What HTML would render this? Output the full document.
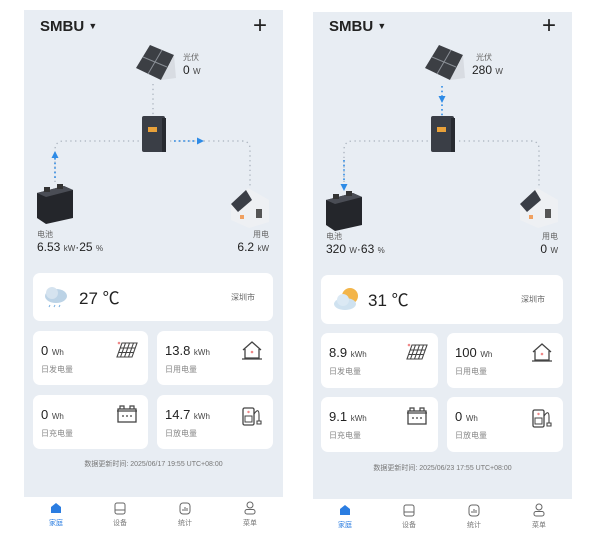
<!DOCTYPE html>
<html><head><meta charset="utf-8"><style>
*{margin:0;padding:0;box-sizing:border-box}
body{width:600px;height:540px;background:#fff;position:relative;overflow:hidden;font-family:"Liberation Sans","Noto Sans CJK SC",sans-serif;color:#222}
.p{position:absolute;width:259px;height:530px;background:#e8edf3}
.a{position:absolute}
.tab{position:absolute;left:0;top:487px;width:259px;height:50px;background:#fff}
.card{position:absolute;background:#fff;border-radius:7px}
.lbl{font-size:8px;color:#666}
.val{font-size:12px;color:#222}
.val small{font-size:8px;color:#444}
.cv{position:absolute;left:8px;top:12px;font-size:13px;color:#222}
.cv small{font-size:8px;color:#444}
.cl{position:absolute;left:8px;top:33px;font-size:8px;color:#888}
.ic{position:absolute;right:10px;top:10px}
.tl{position:absolute;font-size:7px;color:#777;width:30px;text-align:center}
</style></head><body>

<!-- PANEL 1 -->
<div class="p" style="left:24px;top:10px">
 <div class="a" style="left:16px;top:8px;font-size:15px;font-weight:bold">SMBU <span style="font-size:9px;position:relative;top:-2px">▼</span></div>
 <div class="a" style="left:229px;top:2px;font-size:24px;font-weight:300">+</div>
 <svg class="a" style="left:0;top:0" width="259" height="260">
  <g stroke="#a9b2bd" stroke-width="1.3" stroke-dasharray="1.3 3.5" fill="none">
   <path d="M129 74 L129 106"/>
   <path d="M31 172 L31 140 Q31 131 40 131 L117 131"/>
   <path d="M146 131 L218 131 Q226 131 226 139 L226 178"/>
  </g>
  <g stroke="#2e8be6" stroke-width="1.6" stroke-dasharray="1.6 3" fill="none"><path d="M31 168 L31 148"/><path d="M150 131 L172 131"/></g>
  <path d="M31 141 L27.5 148 L34.5 148Z" fill="#2e8be6"/>
  <path d="M180 131 L173 127.5 L173 134.5Z" fill="#2e8be6"/>
  <polygon points="126,35 150,45 137,70 112,58" fill="#3c3f44"/>
  <path d="M138 40 L124 64 M119 47 L143 57" stroke="#8a8f96" stroke-width="1"/>
  <polygon points="137,70 150,45 152,68" fill="#d8dce2"/>
  <rect x="118" y="106" width="23" height="36" rx="2" fill="#3a3e46"/>
  <rect x="138" y="108" width="4" height="34" fill="#272a30"/>
  <rect x="124" y="117" width="9" height="5" fill="#e8a13a"/>
  <polygon points="13,183 40,176 49,180 49,208 22,214 13,208" fill="#24262b"/>
  <polygon points="13,183 40,176 49,180 22,187" fill="#4a4d55"/>
  <rect x="20" y="177" width="6" height="5" fill="#333"/><rect x="33" y="174" width="6" height="5" fill="#333"/>
  <polygon points="207,194 224,178 245,190 245,212 225,218 207,210" fill="#eef0f3"/>
  <polygon points="207,194 222,180 228,190 214,202" fill="#3a3e46"/>
  <rect x="232" y="199" width="6" height="9" fill="#555"/><rect x="216" y="205" width="4" height="4" fill="#f0a060"/>
 </svg>
 <div class="a lbl" style="left:159px;top:42px">光伏</div>
 <div class="a val" style="left:159px;top:53px">0 <small>W</small></div>
 <div class="a lbl" style="left:13px;top:219px">电池</div>
 <div class="a val" style="left:13px;top:230px">6.53 <small>kW</small>·25 <small>%</small></div>
 <div class="a lbl" style="right:14px;top:219px">用电</div>
 <div class="a val" style="right:14px;top:230px">6.2 <small>kW</small></div>

 <div class="card" style="left:9px;top:263px;width:240px;height:48px">
  <svg class="a" style="left:10px;top:12px" width="26" height="24"><ellipse cx="13" cy="11" rx="11" ry="7" fill="#bcd3e6"/><circle cx="9" cy="8" r="6" fill="#d5e3ef"/><path d="M7 20 l-1 2 M12 20 l-1 2 M17 20 l-1 2" stroke="#7ab0e0" stroke-width="1"/></svg>
  <div class="a" style="left:46px;top:11px;font-size:17px">27 ℃</div>
  <div class="a" style="right:18px;top:19px;font-size:8px;color:#666">深圳市</div>
 </div>
 <div class="card" style="left:9px;top:321px;width:115px;height:54px"><div class="cv">0 <small>Wh</small></div><div class="cl">日发电量</div>
  <svg class="ic" width="22" height="18"><path d="M6 2 L21 2 L16 16 L1 16Z M9.5 2 L4.5 16 M13.5 2 L8.5 16 M17.5 2 L12.5 16 M4 7 L19 7 M2.5 11.5 L17.5 11.5" stroke="#444" stroke-width="1.1" fill="none"/><circle cx="3" cy="2" r="1.3" fill="#e88"/></svg></div>
 <div class="card" style="left:133px;top:321px;width:116px;height:54px"><div class="cv">13.8 <small>kWh</small></div><div class="cl">日用电量</div>
  <svg class="ic" width="22" height="20"><path d="M2 9 L11 1 L20 9 M4 8 V17 H18 V8 M1 18 H21" stroke="#444" stroke-width="1.3" fill="none"/><circle cx="11" cy="11" r="1.3" fill="#e88"/></svg></div>
 <div class="card" style="left:9px;top:385px;width:115px;height:54px"><div class="cv">0 <small>Wh</small></div><div class="cl">日充电量</div>
  <svg class="ic" width="22" height="18"><rect x="2" y="4" width="18" height="13" stroke="#444" stroke-width="1.3" fill="none"/><path d="M4 4 V1 H8 V4 M14 4 V1 H18 V4 M1 6 H21 M6 11 h2 M10 11h2 M14 11h2" stroke="#444" stroke-width="1.2" fill="none"/></svg></div>
 <div class="card" style="left:133px;top:385px;width:116px;height:54px"><div class="cv">14.7 <small>kWh</small></div><div class="cl">日放电量</div>
  <svg class="ic" width="22" height="22"><rect x="2" y="3" width="11" height="17" rx="1.5" stroke="#444" stroke-width="1.3" fill="none"/><rect x="4" y="11" width="7" height="6" stroke="#444" stroke-width="1" fill="none"/><path d="M13 9 Q18 2 18 10 V16 M16 16h4v3h-4z" stroke="#444" stroke-width="1.1" fill="none"/><circle cx="7.5" cy="7" r="1.2" fill="#e88"/></svg></div>
 <div class="a" style="left:0;width:259px;top:449px;text-align:center;font-size:7px;color:#777">数据更新时间: 2025/06/17 19:55 UTC+08:00</div>

 <div class="tab">
  <svg class="a" style="left:26px;top:5px" width="12" height="12"><path d="M1 5 L6 1 L11 5 V11 H1Z" fill="#2b7de1"/></svg>
  <div class="tl" style="left:17px;top:21px;color:#2b7de1">家庭</div>
  <svg class="a" style="left:90px;top:5px" width="12" height="13"><rect x="1" y="1" width="10" height="11" rx="2" stroke="#666" fill="none"/><path d="M1 8 H11" stroke="#666"/></svg>
  <div class="tl" style="left:81px;top:21px">设备</div>
  <svg class="a" style="left:155px;top:5px" width="12" height="13"><rect x="1" y="1" width="10" height="11" rx="3" stroke="#666" fill="none"/><path d="M4 9V7 M6 9V5 M8 9V6" stroke="#666"/></svg>
  <div class="tl" style="left:146px;top:21px">统计</div>
  <svg class="a" style="left:220px;top:4px" width="12" height="14"><circle cx="6" cy="4" r="3" stroke="#666" fill="none"/><rect x="1" y="8.5" width="10" height="4.5" rx="2" stroke="#666" fill="none"/></svg>
  <div class="tl" style="left:211px;top:21px">菜单</div>
 </div>
</div>

<!-- PANEL 2 -->
<div class="p" style="left:313px;top:12px">
 <div class="a" style="left:16px;top:6px;font-size:15px;font-weight:bold">SMBU <span style="font-size:9px;position:relative;top:-2px">▼</span></div>
 <div class="a" style="left:229px;top:0px;font-size:24px;font-weight:300">+</div>
 <svg class="a" style="left:0;top:-2px" width="259" height="260">
  <g stroke="#a9b2bd" stroke-width="1.3" stroke-dasharray="1.3 3.5" fill="none">
   <path d="M31 172 L31 140 Q31 131 40 131 L117 131"/>
   <path d="M146 131 L218 131 Q226 131 226 139 L226 178"/>
  </g>
  <g stroke="#2e8be6" stroke-width="1.6" stroke-dasharray="1.6 3" fill="none"><path d="M129 76 L129 106"/><path d="M31 150 L31 172"/></g>
  <path d="M129 93 L125.5 86 L132.5 86Z" fill="#2e8be6"/>
  <path d="M31 181 L27.5 174 L34.5 174Z" fill="#2e8be6"/>
  <polygon points="126,35 150,45 137,70 112,58" fill="#3c3f44"/>
  <path d="M138 40 L124 64 M119 47 L143 57" stroke="#8a8f96" stroke-width="1"/>
  <polygon points="137,70 150,45 152,68" fill="#d8dce2"/>
  <rect x="118" y="106" width="23" height="36" rx="2" fill="#3a3e46"/>
  <rect x="138" y="108" width="4" height="34" fill="#272a30"/>
  <rect x="124" y="117" width="9" height="5" fill="#e8a13a"/>
  <polygon points="13,190 40,183 49,187 49,215 22,221 13,215" fill="#24262b"/>
  <polygon points="13,190 40,183 49,187 22,194" fill="#4a4d55"/>
  <rect x="20" y="184" width="6" height="5" fill="#333"/><rect x="33" y="181" width="6" height="5" fill="#333"/>
  <polygon points="207,194 224,178 245,190 245,212 225,218 207,210" fill="#eef0f3"/>
  <polygon points="207,194 222,180 228,190 214,202" fill="#3a3e46"/>
  <rect x="232" y="199" width="6" height="9" fill="#555"/><rect x="216" y="205" width="4" height="4" fill="#f0a060"/>
 </svg>
 <div class="a lbl" style="left:163px;top:40px">光伏</div>
 <div class="a val" style="left:159px;top:51px">280 <small>W</small></div>
 <div class="a lbl" style="left:13px;top:219px">电池</div>
 <div class="a val" style="left:13px;top:230px">320 <small>W</small>·63 <small>%</small></div>
 <div class="a lbl" style="right:14px;top:219px">用电</div>
 <div class="a val" style="right:14px;top:230px">0 <small>W</small></div>

 <div class="card" style="left:8px;top:263px;width:242px;height:49px">
  <svg class="a" style="left:12px;top:11px" width="28" height="26"><circle cx="17" cy="10" r="8" fill="#f3b54a"/><ellipse cx="12" cy="18" rx="11" ry="6" fill="#cfe2f0"/><circle cx="10" cy="14" r="6" fill="#dbe9f4"/></svg>
  <div class="a" style="left:47px;top:11px;font-size:17px">31 ℃</div>
  <div class="a" style="right:18px;top:19px;font-size:8px;color:#666">深圳市</div>
 </div>
 <div class="card" style="left:8px;top:321px;width:117px;height:55px"><div class="cv">8.9 <small>kWh</small></div><div class="cl">日发电量</div>
  <svg class="ic" width="22" height="18"><path d="M6 2 L21 2 L16 16 L1 16Z M9.5 2 L4.5 16 M13.5 2 L8.5 16 M17.5 2 L12.5 16 M4 7 L19 7 M2.5 11.5 L17.5 11.5" stroke="#444" stroke-width="1.1" fill="none"/><circle cx="3" cy="2" r="1.3" fill="#e88"/></svg></div>
 <div class="card" style="left:134px;top:321px;width:116px;height:55px"><div class="cv">100 <small>Wh</small></div><div class="cl">日用电量</div>
  <svg class="ic" width="22" height="20"><path d="M2 9 L11 1 L20 9 M4 8 V17 H18 V8 M1 18 H21" stroke="#444" stroke-width="1.3" fill="none"/><circle cx="11" cy="11" r="1.3" fill="#e88"/></svg></div>
 <div class="card" style="left:8px;top:385px;width:117px;height:55px"><div class="cv">9.1 <small>kWh</small></div><div class="cl">日充电量</div>
  <svg class="ic" width="22" height="18"><rect x="2" y="4" width="18" height="13" stroke="#444" stroke-width="1.3" fill="none"/><path d="M4 4 V1 H8 V4 M14 4 V1 H18 V4 M1 6 H21 M6 11 h2 M10 11h2 M14 11h2" stroke="#444" stroke-width="1.2" fill="none"/></svg></div>
 <div class="card" style="left:134px;top:385px;width:116px;height:55px"><div class="cv">0 <small>Wh</small></div><div class="cl">日放电量</div>
  <svg class="ic" width="22" height="22"><rect x="2" y="3" width="11" height="17" rx="1.5" stroke="#444" stroke-width="1.3" fill="none"/><rect x="4" y="11" width="7" height="6" stroke="#444" stroke-width="1" fill="none"/><path d="M13 9 Q18 2 18 10 V16 M16 16h4v3h-4z" stroke="#444" stroke-width="1.1" fill="none"/><circle cx="7.5" cy="7" r="1.2" fill="#e88"/></svg></div>
 <div class="a" style="left:0;width:259px;top:451px;text-align:center;font-size:7px;color:#777">数据更新时间: 2025/06/23 17:55 UTC+08:00</div>

 <div class="tab">
  <svg class="a" style="left:26px;top:5px" width="12" height="12"><path d="M1 5 L6 1 L11 5 V11 H1Z" fill="#2b7de1"/></svg>
  <div class="tl" style="left:17px;top:21px;color:#2b7de1">家庭</div>
  <svg class="a" style="left:90px;top:5px" width="12" height="13"><rect x="1" y="1" width="10" height="11" rx="2" stroke="#666" fill="none"/><path d="M1 8 H11" stroke="#666"/></svg>
  <div class="tl" style="left:81px;top:21px">设备</div>
  <svg class="a" style="left:155px;top:5px" width="12" height="13"><rect x="1" y="1" width="10" height="11" rx="3" stroke="#666" fill="none"/><path d="M4 9V7 M6 9V5 M8 9V6" stroke="#666"/></svg>
  <div class="tl" style="left:146px;top:21px">统计</div>
  <svg class="a" style="left:220px;top:4px" width="12" height="14"><circle cx="6" cy="4" r="3" stroke="#666" fill="none"/><rect x="1" y="8.5" width="10" height="4.5" rx="2" stroke="#666" fill="none"/></svg>
  <div class="tl" style="left:211px;top:21px">菜单</div>
 </div>
</div>
</body></html>
